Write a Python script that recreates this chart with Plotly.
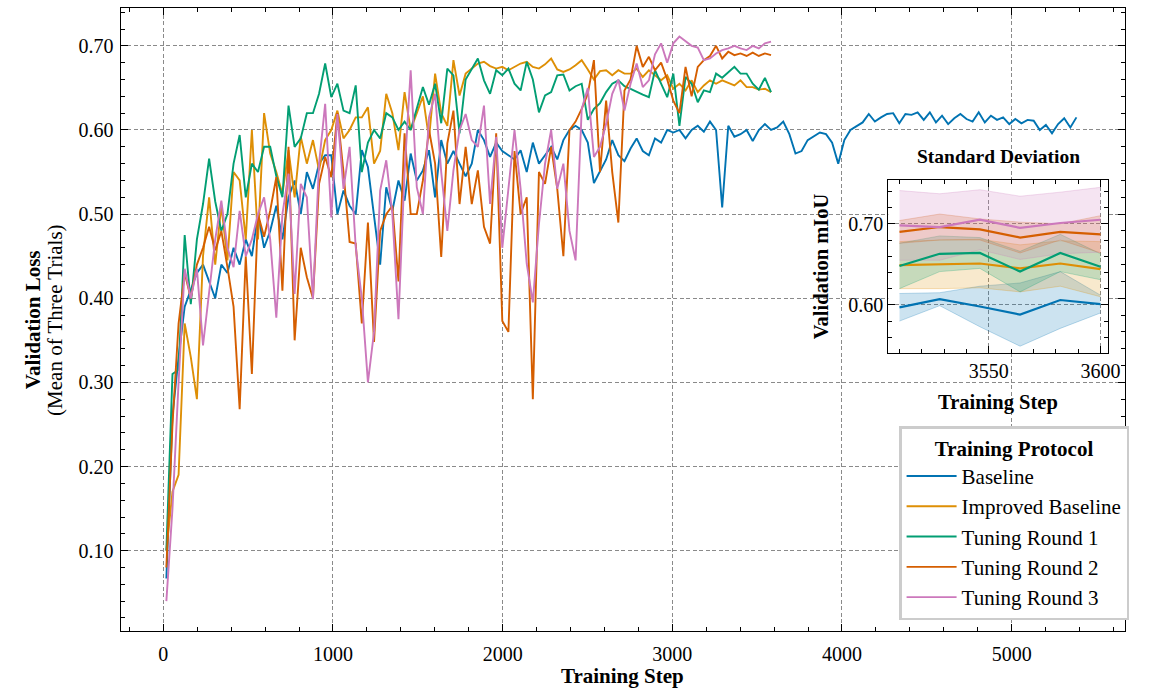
import plotly.graph_objects as go

# ---------------- data ----------------
SERIES_NAMES = ["Baseline", "Improved Baseline", "Tuning Round 1", "Tuning Round 2", "Tuning Round 3"]
COLORS = ["#0173B2", "#DE8F05", "#029E73", "#D55E00", "#CC78BC"]

FIRST_STEP = 18
EVAL_INTERVAL = 36

baseline = [
    0.067, 0.26, 0.33, 0.39, 0.41, 0.43, 0.44, 0.42, 0.40, 0.44,
    0.43, 0.46, 0.44, 0.47, 0.45, 0.50, 0.46, 0.48, 0.51, 0.47,
    0.52, 0.54, 0.50, 0.55, 0.53, 0.56, 0.57, 0.57, 0.50, 0.528,
    0.51, 0.50, 0.576, 0.556, 0.50, 0.44, 0.532, 0.504, 0.54, 0.516,
    0.572, 0.54, 0.552, 0.576, 0.52, 0.588, 0.56, 0.575, 0.56, 0.545,
    0.56, 0.60, 0.588, 0.568, 0.585, 0.575, 0.57, 0.565, 0.576, 0.55,
    0.585, 0.56, 0.57, 0.58, 0.565, 0.588, 0.60, 0.605, 0.60, 0.585,
    0.537, 0.552, 0.565, 0.588, 0.57, 0.563, 0.578, 0.59, 0.575, 0.57,
    0.59, 0.585, 0.60, 0.597, 0.60, 0.59, 0.60, 0.605, 0.598, 0.61,
    0.60, 0.508, 0.605, 0.592, 0.595, 0.60, 0.587, 0.60, 0.607, 0.60,
    0.603, 0.61, 0.595, 0.572, 0.575, 0.588, 0.593, 0.597, 0.595, 0.585,
    0.56, 0.588, 0.60, 0.605, 0.609, 0.619, 0.61, 0.615, 0.619, 0.62,
    0.608, 0.619, 0.618, 0.621, 0.612, 0.621, 0.609, 0.617, 0.607, 0.614,
    0.619, 0.613, 0.61, 0.621, 0.609, 0.617, 0.612, 0.615, 0.607, 0.613,
    0.608, 0.612, 0.611, 0.60, 0.606, 0.596, 0.607, 0.614, 0.603, 0.615,
]

improved_baseline = [
    0.10, 0.17, 0.19, 0.37, 0.33, 0.28, 0.45, 0.52, 0.44, 0.51,
    0.445, 0.55, 0.54, 0.47, 0.60, 0.47, 0.62, 0.572, 0.55, 0.524,
    0.576, 0.52, 0.592, 0.56, 0.588, 0.552, 0.588, 0.60, 0.623, 0.59,
    0.60, 0.615, 0.615, 0.627, 0.56, 0.575, 0.643, 0.62, 0.576, 0.645,
    0.60, 0.62, 0.64, 0.59, 0.667, 0.62, 0.605, 0.683, 0.641, 0.667,
    0.673, 0.679, 0.681, 0.676, 0.673, 0.675, 0.671, 0.675, 0.679, 0.681,
    0.675, 0.673, 0.678, 0.685, 0.672, 0.669, 0.672, 0.677, 0.683, 0.672,
    0.66, 0.67, 0.671, 0.665, 0.671, 0.667, 0.667, 0.673, 0.663, 0.671,
    0.665, 0.659, 0.665, 0.649, 0.655, 0.647, 0.659, 0.645, 0.653, 0.659,
    0.655, 0.659, 0.656, 0.653, 0.659, 0.651, 0.651, 0.648, 0.649, 0.645,
]

tuning_round_1 = [
    0.10, 0.31, 0.315, 0.475, 0.393, 0.47, 0.512, 0.566, 0.515, 0.48,
    0.50, 0.56, 0.594, 0.52, 0.56, 0.55, 0.58, 0.58, 0.545, 0.52,
    0.629, 0.58, 0.59, 0.62, 0.62, 0.643, 0.679, 0.639, 0.655, 0.623,
    0.62, 0.653, 0.55, 0.585, 0.60, 0.59, 0.62, 0.615, 0.60, 0.61,
    0.60, 0.627, 0.651, 0.63, 0.655, 0.608, 0.673, 0.665, 0.596, 0.66,
    0.673, 0.685, 0.659, 0.643, 0.671, 0.665, 0.673, 0.655, 0.647, 0.681,
    0.66, 0.621, 0.641, 0.645, 0.665, 0.666, 0.647, 0.652, 0.655, 0.612,
    0.625, 0.632, 0.645, 0.655, 0.659, 0.652, 0.649, 0.645, 0.642, 0.639,
    0.671, 0.655, 0.639, 0.667, 0.605, 0.663, 0.655, 0.633, 0.647, 0.645,
    0.667, 0.662, 0.668, 0.675, 0.667, 0.667, 0.655, 0.648, 0.662, 0.645,
]

tuning_round_2 = [
    0.08, 0.25, 0.37, 0.43, 0.40, 0.44, 0.46, 0.485, 0.457, 0.48,
    0.437, 0.39, 0.268, 0.45, 0.31, 0.50, 0.473, 0.504, 0.544, 0.409,
    0.58, 0.35, 0.46, 0.425, 0.40, 0.536, 0.568, 0.544, 0.62, 0.55,
    0.467, 0.465, 0.37, 0.49, 0.348, 0.48, 0.50, 0.51, 0.42, 0.596,
    0.50, 0.50, 0.54, 0.60, 0.56, 0.449, 0.584, 0.623, 0.512, 0.58,
    0.512, 0.552, 0.485, 0.465, 0.596, 0.373, 0.36, 0.575, 0.50, 0.52,
    0.28, 0.55, 0.536, 0.58, 0.53, 0.45, 0.60, 0.61, 0.625, 0.643,
    0.683, 0.55, 0.635, 0.55, 0.49, 0.647, 0.66, 0.70, 0.675, 0.687,
    0.671, 0.68, 0.66, 0.635, 0.62, 0.675, 0.64, 0.675, 0.683, 0.688,
    0.70, 0.685, 0.693, 0.689, 0.691, 0.688, 0.692, 0.688, 0.691, 0.689,
]

tuning_round_3 = [
    0.04, 0.15, 0.30, 0.435, 0.40, 0.435, 0.344, 0.405, 0.47, 0.516,
    0.46, 0.437, 0.504, 0.45, 0.47, 0.50, 0.52, 0.47, 0.377, 0.50,
    0.548, 0.405, 0.536, 0.52, 0.399, 0.56, 0.631, 0.496, 0.619, 0.53,
    0.58, 0.461, 0.40, 0.30, 0.36, 0.528, 0.564, 0.50, 0.375, 0.55,
    0.671, 0.532, 0.50, 0.615, 0.643, 0.55, 0.48, 0.552, 0.60, 0.619,
    0.588, 0.58, 0.629, 0.512, 0.592, 0.46, 0.53, 0.60, 0.53, 0.441,
    0.395, 0.488, 0.56, 0.60, 0.53, 0.56, 0.48, 0.445, 0.625, 0.65,
    0.568, 0.58, 0.607, 0.643, 0.66, 0.623, 0.655, 0.679, 0.651, 0.659,
    0.69, 0.703, 0.68, 0.703, 0.711, 0.705, 0.70, 0.698, 0.683, 0.685,
    0.691, 0.695, 0.697, 0.70, 0.697, 0.695, 0.70, 0.697, 0.703, 0.705,
]

# inset: last evaluations, mean and standard deviation across three trials
inset_steps = [3510, 3528, 3546, 3564, 3582, 3600]
inset_mean = {
    "Baseline":          [0.597, 0.607, 0.598, 0.588, 0.606, 0.601],
    "Improved Baseline": [0.649, 0.650, 0.651, 0.645, 0.651, 0.644],
    "Tuning Round 1":    [0.648, 0.663, 0.664, 0.641, 0.664, 0.647],
    "Tuning Round 2":    [0.690, 0.696, 0.693, 0.683, 0.690, 0.687],
    "Tuning Round 3":    [0.698, 0.696, 0.705, 0.695, 0.701, 0.705],
}
inset_std = {
    "Baseline":          [0.017, 0.008, 0.025, 0.039, 0.035, 0.011],
    "Improved Baseline": [0.029, 0.030, 0.030, 0.029, 0.028, 0.034],
    "Tuning Round 1":    [0.028, 0.022, 0.019, 0.025, 0.023, 0.016],
    "Tuning Round 2":    [0.014, 0.016, 0.013, 0.019, 0.010, 0.023],
    "Tuning Round 3":    [0.043, 0.041, 0.037, 0.039, 0.038, 0.040],
}

main_series = [baseline, improved_baseline, tuning_round_1, tuning_round_2, tuning_round_3]

# ---------------- figure ----------------
W, H = 1149, 690
FONT = "Liberation Serif"
FS = 19.5


def rgba(hex_color, a):
    h = hex_color.lstrip("#")
    r, g, b = int(h[0:2], 16), int(h[2:4], 16), int(h[4:6], 16)
    return f"rgba({r},{g},{b},{a})"


fig = go.Figure()

for name, color, vals in zip(SERIES_NAMES, COLORS, main_series):
    steps = [FIRST_STEP + EVAL_INTERVAL * i for i in range(len(vals))]
    fig.add_trace(go.Scatter(
        x=steps, y=vals, mode="lines", name=name,
        line=dict(color=color, width=1.9),
        xaxis="x", yaxis="y",
    ))

# inset bands
for name, color in zip(SERIES_NAMES, COLORS):
    m = inset_mean[name]
    s = inset_std[name]
    upper = [a + b for a, b in zip(m, s)]
    lower = [a - b for a, b in zip(m, s)]
    fig.add_trace(go.Scatter(
        x=inset_steps, y=upper, mode="lines",
        line=dict(color=rgba(color, 0.25), width=1),
        showlegend=False, xaxis="x2", yaxis="y2", hoverinfo="skip",
    ))
    fig.add_trace(go.Scatter(
        x=inset_steps, y=lower, mode="lines", fill="tonexty",
        fillcolor=rgba(color, 0.2),
        line=dict(color=rgba(color, 0.25), width=1),
        showlegend=False, xaxis="x2", yaxis="y2", hoverinfo="skip",
    ))
for name, color in zip(SERIES_NAMES, COLORS):
    fig.add_trace(go.Scatter(
        x=inset_steps, y=inset_mean[name], mode="lines",
        line=dict(color=color, width=2.2),
        showlegend=False, xaxis="x2", yaxis="y2",
    ))

axis_common = dict(
    ticks="inside", tickcolor="black", tickwidth=1, ticklen=7,
    showline=True, linecolor="black", linewidth=1.3, mirror="allticks",
    showgrid=True, gridcolor="#8a8a8a", gridwidth=0.9, griddash="4px,2.5px",
    zeroline=False,
    tickfont=dict(family=FONT, size=FS + 0.5, color="black"),
)

fig.update_layout(
    width=W, height=H,
    margin=dict(l=0, r=0, t=0, b=0),
    paper_bgcolor="white", plot_bgcolor="white",
    font=dict(family=FONT, size=FS, color="black"),
    xaxis=dict(
        domain=[122 / W, 1137 / W], range=[-251, 5669],
        tick0=0, dtick=1000, anchor="y", ticklabelstandoff=5,
        minor=dict(tick0=0, dtick=200, ticks="inside", ticklen=4, tickcolor="black", showgrid=False),
        **axis_common,
    ),
    yaxis=dict(
        domain=[1 - 631 / H, 1 - 8 / H], range=[0.0045, 0.745],
        tick0=0, dtick=0.1, tickformat=".2f", anchor="x", ticklabelstandoff=2,
        minor=dict(tick0=0, dtick=0.02, ticks="inside", ticklen=4, tickcolor="black", showgrid=False),
        **axis_common,
    ),
    xaxis2=dict(
        domain=[897.7 / W, 1120 / W], range=[3505, 3603.5],
        tick0=0, dtick=50, anchor="y2",
        minor=dict(tick0=0, dtick=10, ticks="inside", ticklen=4, tickcolor="black", showgrid=False),
        **axis_common,
    ),
    yaxis2=dict(
        domain=[1 - 352.7 / H, 1 - 180 / H], range=[0.541, 0.754],
        tick0=0, dtick=0.1, tickformat=".2f", anchor="x2",
        minor=dict(tick0=0, dtick=0.02, ticks="inside", ticklen=4, tickcolor="black", showgrid=False),
        **axis_common,
    ),
    legend=dict(
        title=dict(text="<b>Training Protocol</b>", side="top center",
                   font=dict(family=FONT, size=21, color="black")),
        font=dict(family=FONT, size=21, color="black"),
        bgcolor="white", bordercolor="#cccccc", borderwidth=2.5,
        x=1141 / W, xanchor="right", y=1 - 620 / H, yanchor="bottom",
        itemwidth=50, traceorder="normal",
    ),
    showlegend=True,
    shapes=[
        dict(type="rect", xref="x2 domain", yref="y2 domain", x0=0, x1=1, y0=0, y1=1,
             fillcolor="white", line=dict(width=0), layer="below"),
    ],
)

annotations = [
    dict(text="<b>Validation Loss</b>", x=33 / W, y=1 - 319.5 / H, textangle=-90, size=21),
    dict(text="(Mean of Three Trials)", x=55 / W, y=1 - 319.5 / H, textangle=-90, size=21),
    dict(text="<b>Training Step</b>", x=629.5 / W, y=1 - 676 / H, size=21),
    dict(text="<b>Standard Deviation</b>", x=1009 / W, y=1 - 157 / H, size=19.5),
    dict(text="<b>Validation mIoU</b>", x=830 / W, y=1 - 266 / H, textangle=-90, size=20.5),
    dict(text="<b>Training Step</b>", x=1009 / W, y=1 - 402 / H, size=20.5),
]
for a in annotations:
    sz = a.pop("size")
    a.update(xref="paper", yref="paper", showarrow=False, xanchor="center", yanchor="middle",
             font=dict(family=FONT, size=sz, color="black"))
fig.update_layout(annotations=annotations)

fig.write_html("out.html")
